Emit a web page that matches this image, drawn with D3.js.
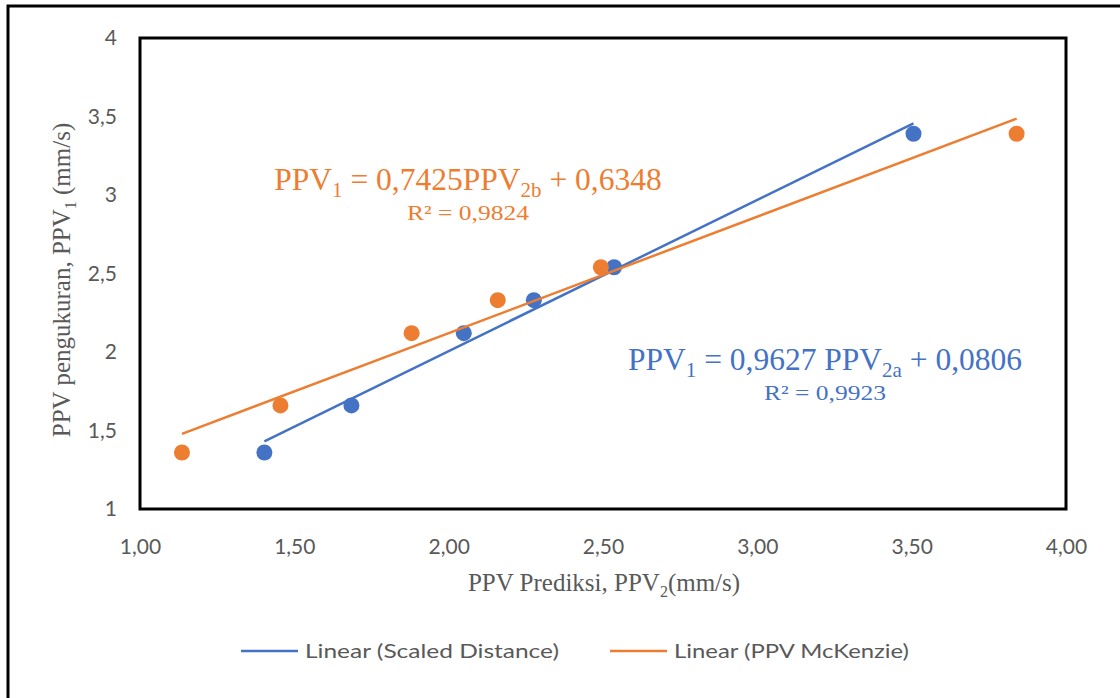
<!DOCTYPE html>
<html><head><meta charset="utf-8">
<script src="https://cdn.jsdelivr.net/npm/d3@7"></script>
<style>body{margin:0;background:#fff}svg{display:block}</style>
</head><body>
<svg id="chart" width="1120" height="698"></svg>
<script>
// Data
const sdX = [1.403, 1.685, 2.049, 2.276, 2.536, 3.506];
const sdY = [1.36, 1.66, 2.12, 2.33, 2.54, 3.39];
const mkX = [1.136, 1.455, 1.880, 2.159, 2.493, 3.840];
const mkY = [1.36, 1.66, 2.12, 2.33, 2.54, 3.39];
const sdFit = [0.9627, 0.0806];
const mkFit = [0.7425, 0.6348];
const xTicks = [1.0, 1.5, 2.0, 2.5, 3.0, 3.5, 4.0];
const yTicks = [1, 1.5, 2, 2.5, 3, 3.5, 4];
const seriesNames = ["Linear (Scaled Distance)", "Linear (PPV McKenzie)"];

const blue = "#4472C4", orange = "#ED7D31", gray = "#595959";
const svg = d3.select("#chart");

// outer frame
svg.append("path").attr("d","M8,698 V6 H1120").attr("fill","none").attr("stroke","#000").attr("stroke-width",3);

const L=140, R=1066, T=38, B=509;
const x = d3.scaleLinear().domain([1,4]).range([L,R]);
const y = d3.scaleLinear().domain([1,4]).range([B,T]);

const fmtX = d => d3.format(".2f")(d).replace(".", ",");
const fmtY = d => String(d).replace(".", ",");
const tickFont = "Lato, 'Open Sans', sans-serif";

const xAxis = svg.append("g").attr("transform",`translate(0,${B+40})`)
  .call(d3.axisBottom(x).tickValues(xTicks).tickFormat(fmtX).tickSize(0));
xAxis.select(".domain").remove();
xAxis.selectAll("text").attr("font-family",tickFont).attr("font-size",21).attr("fill",gray).attr("dy","0.1em");

const yAxis = svg.append("g").attr("transform",`translate(${L-20},0)`)
  .call(d3.axisLeft(y).tickValues(yTicks).tickFormat(fmtY).tickSize(0));
yAxis.select(".domain").remove();
yAxis.selectAll("text").attr("font-family",tickFont).attr("font-size",21).attr("fill",gray).attr("dy","0.32em");

// axis titles
const xt = svg.append("text").attr("x",604).attr("y",591).attr("text-anchor","middle")
  .attr("font-family","'Liberation Serif', serif").attr("font-size",25).attr("fill",gray);
xt.append("tspan").text("PPV Prediksi, PPV");
xt.append("tspan").attr("font-size",16).attr("dy",6).text("2");
xt.append("tspan").attr("dy",-6).text("(mm/s)");

const yt = svg.append("text").attr("transform",`translate(70,280) rotate(-90)`).attr("text-anchor","middle")
  .attr("font-family","'Liberation Serif', serif").attr("font-size",25).attr("fill",gray);
yt.append("tspan").text("PPV pengukuran,  PPV");
yt.append("tspan").attr("font-size",16).attr("dy",6).text("1");
yt.append("tspan").attr("dy",-6).text(" (mm/s)");

// points
function pts(xs, ys, color){
  svg.append("g").selectAll("circle").data(xs.map((v,i)=>[v,ys[i]])).join("circle")
    .attr("cx",d=>x(d[0])).attr("cy",d=>y(d[1])).attr("r",8).attr("fill",color);
}
pts(sdX, sdY, blue);
pts(mkX, mkY, orange);

// trendlines
function trend(xs, fit, color){
  const ext = d3.extent(xs);
  const line = d3.line().x(d=>x(d)).y(d=>y(fit[0]*d+fit[1]));
  svg.append("path").datum(ext).attr("d",line).attr("fill","none").attr("stroke",color).attr("stroke-width",2.5);
}
trend(sdX, sdFit, blue);
trend(mkX, mkFit, orange);

// plot frame
svg.append("rect").attr("x",L).attr("y",T).attr("width",R-L).attr("height",B-T)
  .attr("fill","none").attr("stroke","#000").attr("stroke-width",3);

// equations
function eq(cx, by, parts, r2, color){
  const t = svg.append("text").attr("x",cx).attr("y",by).attr("text-anchor","middle")
    .attr("font-family","'Liberation Serif', serif").attr("font-size",31.5).attr("fill",color);
  parts.forEach(p=>{
    const s = t.append("tspan").text(p[0]);
    if(p[1]==="sub") s.attr("font-size",21).attr("dy",7);
    if(p[1]==="up") s.attr("dy",-7);
  });
  svg.append("text").attr("x",cx).attr("y",by+30).attr("text-anchor","middle")
    .attr("font-family","'Liberation Serif', serif").attr("font-size",22).attr("fill",color).text(r2)
    .attr("textLength",122).attr("lengthAdjust","spacingAndGlyphs");
}
eq(468, 190, [["PPV"],["1","sub"],[" = 0,7425PPV","up"],["2b","sub"],["  + 0,6348","up"]], "R² = 0,9824", orange);
eq(825, 370, [["PPV"],["1","sub"],[" = 0,9627  PPV","up"],["2a","sub"],[" + 0,0806","up"]], "R² = 0,9923", blue);

// legend
const leg = [[241, blue, 254],[610, orange, 235]];
leg.forEach((l,i)=>{
  svg.append("line").attr("x1",l[0]).attr("x2",l[0]+57).attr("y1",651).attr("y2",651).attr("stroke",l[1]).attr("stroke-width",2.5);
  svg.append("text").attr("x",l[0]+64).attr("y",651).attr("dy","0.35em")
    .attr("font-family",tickFont).attr("font-size",20).attr("fill",gray).text(seriesNames[i])
    .attr("textLength", l[2]).attr("lengthAdjust","spacingAndGlyphs");
});
</script>
</body></html>
